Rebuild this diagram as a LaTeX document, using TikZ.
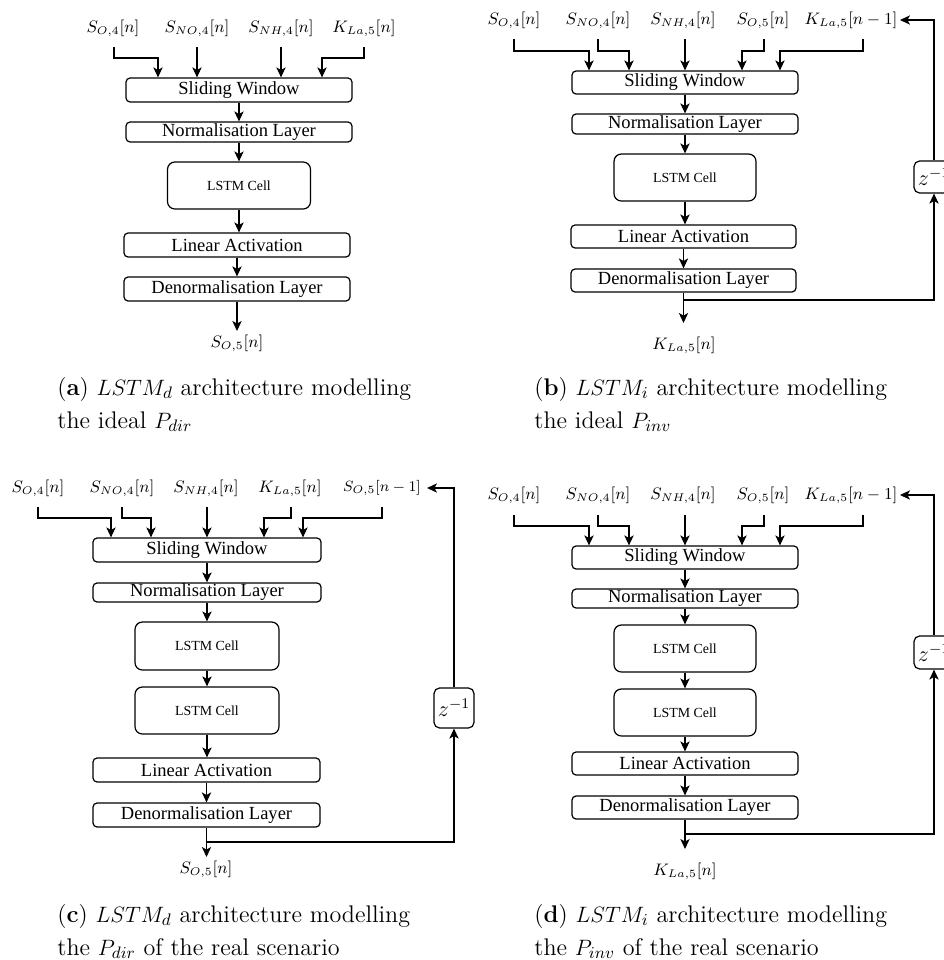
\documentclass[tikz,border=0pt]{standalone}
\usepackage[no-math]{fontspec}
\newfontfamily\tms{Liberation Serif}
\usetikzlibrary{arrows.meta,calc}
\newcommand\pu[1]{#1*0.54pt}
\tikzset{
  lay/.style={draw, rounded corners=2.2pt, line width=0.65pt, inner sep=0pt, font=\tms\fontsize{10}{12}\selectfont},
  cell/.style={draw, rounded corners=4pt, line width=0.65pt, inner sep=0pt, font=\tms\fontsize{7.5}{9}\selectfont},
  sig/.style={inner sep=0pt, font=\fontsize{9}{11}\selectfont},
  sigs/.style={inner sep=0pt, font=\fontsize{8}{9}\selectfont},
  zbox/.style={draw, rounded corners=3pt, line width=0.65pt, inner sep=0pt, minimum width=\pu{40}, font=\fontsize{12}{15}\selectfont},
  arr/.style={-{Stealth[length=5.4pt,width=5pt,inset=1.4pt]}, line width=0.65pt},
  captext/.style={anchor=base west, inner sep=0pt, font=\fontsize{13}{16}\selectfont},
}
\newcommand\lbox[6]{\node[lay, minimum width=\pu{#4}, minimum height=\pu{#5}] (#1) at (#2,#3) {#6};}
\newcommand\cbox[6]{\node[cell, minimum width=\pu{#4}, minimum height=\pu{#5}] (#1) at (#2,#3) {#6};}
\newcommand\inp[5]{\draw[arr] (#1,#2) -- (#1,#3) -| (#4,0 |- #5.north);}
\newcommand\link[2]{\draw[arr] (#1.south) -- (#1.south |- #2.north);}
\begin{document}
\begin{tikzpicture}[x=0.54pt,y=-0.54pt]
\useasboundingbox (0,0) rectangle (944,960);
\clip (0,0) rectangle (944,960);

% ---------------- panel (a)
\node[sig] (aI1) at (113,28) {$S_{O,4}[n]$};
\node[sig] (aI2) at (197,28) {$S_{NO,4}[n]$};
\node[sig] (aI3) at (281,28) {$S_{NH,4}[n]$};
\node[sig] (aI4) at (364,28) {$K_{La,5}[n]$};
\lbox{aSW}{239}{90}{226}{24}{Sliding Window}
\lbox{aNL}{239}{132}{226}{20}{Normalisation Layer}
\cbox{aLC}{239}{185.5}{143}{47}{LSTM Cell}
\lbox{aLA}{237}{245}{226}{24}{Linear Activation}
\lbox{aDL}{237}{289}{226}{24}{Denormalisation Layer}
\node[sig] (aO) at (237,343) {$S_{O,5}[n]$};
\inp{114}{47}{58}{158}{aSW}
\inp{197}{47}{58}{197}{aSW}
\inp{281}{47}{58}{281}{aSW}
\inp{364}{47}{58}{322}{aSW}
\link{aSW}{aNL}
\link{aNL}{aLC}
\link{aLC}{aLA}
\link{aLA}{aDL}
\draw[arr] (aDL.south) -- (aDL.south |- 0,331);
\node[captext] (aC1) at (57,395) {(\textbf{a}) $LSTM_d$ architecture modelling};
\node[captext] (aC2) at (57,428) {the ideal $P_{dir}$};

% ---------------- panel (b)
\node[sig] (bI1) at (514,20) {$S_{O,4}[n]$};
\node[sig] (bI2) at (598,20) {$S_{NO,4}[n]$};
\node[sig] (bI3) at (683,20) {$S_{NH,4}[n]$};
\node[sig] (bI4) at (763,20) {$S_{O,5}[n]$};
\node[sig] (bI5) at (851,20) {$K_{La,5}[n-1]$};
\lbox{bSW}{685}{82.5}{226}{23}{Sliding Window}
\lbox{bNL}{685}{124}{226}{20}{Normalisation Layer}
\cbox{bLC}{685}{177.5}{142}{47}{LSTM Cell}
\lbox{bLA}{683.5}{236.5}{225}{23}{Linear Activation}
\lbox{bDL}{683.5}{280.5}{225}{23}{Denormalisation Layer}
\node[zbox, minimum height=\pu{32}] (bZ) at (934,177) {$z^{-1}$};
\node[sig] (bO) at (684,345) {$K_{La,5}[n]$};
\inp{514}{39}{51}{589}{bSW}
\inp{598}{39}{51}{629}{bSW}
\inp{685}{39}{51}{685}{bSW}
\inp{764}{39}{51}{742}{bSW}
\inp{863}{39}{51}{780}{bSW}
\link{bSW}{bNL}
\link{bNL}{bLC}
\link{bLC}{bLA}
\link{bLA}{bDL}
\draw[arr] (bDL.south) -- (bDL.south |- 0,323);
\draw[arr] (bDL.south |- 0,300) -| (bZ.south);
\draw[arr] (bZ.north) |- (900,0 |- bI5);
\node[captext] (bC1) at (534,395) {(\textbf{b}) $LSTM_i$ architecture modelling};
\node[captext] (bC2) at (534,428) {the ideal $P_{inv}$};

% ---------------- panel (c)
\node[sig] (cI1) at (38,488) {$S_{O,4}[n]$};
\node[sig] (cI2) at (122,488) {$S_{NO,4}[n]$};
\node[sig] (cI3) at (206,488) {$S_{NH,4}[n]$};
\node[sig] (cI4) at (290,488) {$K_{La,5}[n]$};
\node[sigs] (cI5) at (382,488) {$S_{O,5}[n-1]$};
\lbox{cSW}{207}{550}{228}{24}{Sliding Window}
\lbox{cNL}{207}{592.5}{228}{19}{Normalisation Layer}
\cbox{cL1}{207}{646}{144}{48}{LSTM Cell}
\cbox{cL2}{207}{710.5}{144}{47}{LSTM Cell}
\lbox{cLA}{206.5}{770}{227}{24}{Linear Activation}
\lbox{cDL}{206.5}{815}{227}{24}{Denormalisation Layer}
\node[zbox, minimum height=\pu{40}] (cZ) at (454,708) {$z^{-1}$};
\node[sig] (cO) at (206,869) {$S_{O,5}[n]$};
\inp{38}{507}{518}{111}{cSW}
\inp{122}{507}{518}{151}{cSW}
\inp{207}{507}{518}{207}{cSW}
\inp{291}{507}{518}{264}{cSW}
\inp{382}{507}{518}{303}{cSW}
\link{cSW}{cNL}
\link{cNL}{cL1}
\link{cL1}{cL2}
\link{cL2}{cLA}
\link{cLA}{cDL}
\draw[arr] (cDL.south) -- (cDL.south |- 0,857);
\draw[arr] (cDL.south |- 0,842) -| (cZ.south);
\draw[arr] (cZ.north) |- (427,0 |- cI5);
\node[captext] (cC1) at (57,922) {(\textbf{c}) $LSTM_d$ architecture modelling};
\node[captext] (cC2) at (57,955) {the $P_{dir}$ of the real scenario};

% ---------------- panel (d)
\node[sig] (dI1) at (514,495) {$S_{O,4}[n]$};
\node[sig] (dI2) at (598,495) {$S_{NO,4}[n]$};
\node[sig] (dI3) at (683,495) {$S_{NH,4}[n]$};
\node[sig] (dI4) at (763,495) {$S_{O,5}[n]$};
\node[sig] (dI5) at (851,495) {$K_{La,5}[n-1]$};
\lbox{dSW}{685}{557.5}{226}{23}{Sliding Window}
\lbox{dNL}{685}{598.5}{226}{19}{Normalisation Layer}
\cbox{dL1}{685}{648.5}{142}{47}{LSTM Cell}
\cbox{dL2}{685}{712.5}{142}{47}{LSTM Cell}
\lbox{dLA}{685}{763.5}{226}{23}{Linear Activation}
\lbox{dDL}{685}{807.5}{226}{23}{Denormalisation Layer}
\node[zbox, minimum height=\pu{33}] (dZ) at (934,652.5) {$z^{-1}$};
\node[sig] (dO) at (685,871) {$K_{La,5}[n]$};
\inp{514}{515}{526}{589}{dSW}
\inp{598}{515}{526}{629}{dSW}
\inp{685}{515}{526}{685}{dSW}
\inp{764}{515}{526}{742}{dSW}
\inp{863}{515}{526}{780}{dSW}
\link{dSW}{dNL}
\link{dNL}{dL1}
\link{dL1}{dL2}
\link{dL2}{dLA}
\link{dLA}{dDL}
\draw[arr] (dDL.south) -- (dDL.south |- 0,849);
\draw[arr] (dDL.south |- 0,834) -| (dZ.south);
\draw[arr] (dZ.north) |- (900,0 |- dI5);
\node[captext] (dC1) at (534,922) {(\textbf{d}) $LSTM_i$ architecture modelling};
\node[captext] (dC2) at (534,955) {the $P_{inv}$ of the real scenario};
\end{tikzpicture}
\end{document}
